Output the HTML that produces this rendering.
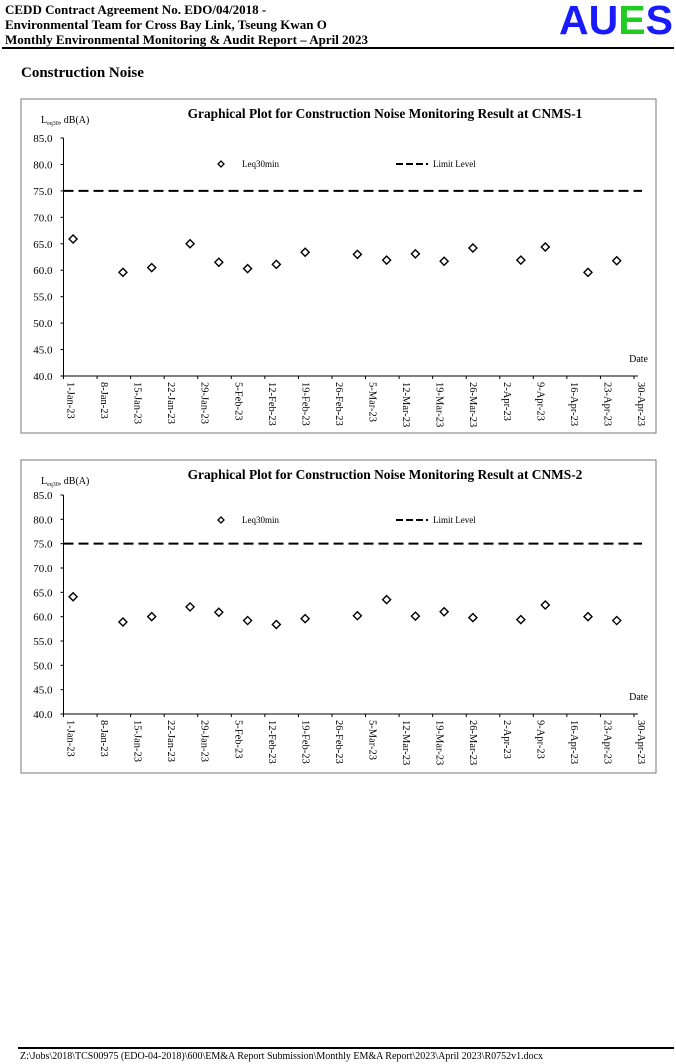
<!DOCTYPE html>
<html><head><meta charset="utf-8">
<style>
body{margin:0;width:676px;height:1064px;background:#fff;position:relative;font-family:"Liberation Serif",serif;overflow:hidden}
.h{position:absolute;left:5px;font-weight:bold;font-size:13px;line-height:15px;color:#000}
</style></head><body>
<div class="h" style="top:2px">CEDD Contract Agreement No. EDO/04/2018 -</div>
<div class="h" style="top:17px">Environmental Team for Cross Bay Link, Tseung Kwan O</div>
<div class="h" style="top:32px">Monthly Environmental Monitoring &amp; Audit Report – April 2023</div>
<div style="position:absolute;left:559px;top:-2px;font-family:'Liberation Sans',sans-serif;font-weight:bold;font-size:41px;line-height:44px;letter-spacing:0px"><span style="color:#1a1aff">AU</span><span style="color:#22cc22">E</span><span style="color:#1a1aff">S</span></div>
<div style="position:absolute;left:2px;top:47px;width:672px;height:2px;background:#000"></div>
<div style="position:absolute;left:21px;top:65px;font-weight:bold;font-size:15px">Construction Noise</div>
<svg id="c1" style="position:absolute;left:0;top:0" width="676" height="1064"></svg>
<div style="position:absolute;left:18px;top:1047px;width:656px;height:1.5px;background:#000"></div>
<div style="position:absolute;left:20px;top:1051px;font-size:10px">Z:\Jobs\2018\TCS00975 (EDO-04-2018)\600\EM&amp;A Report Submission\Monthly EM&amp;A Report\2023\April 2023\R0752v1.docx</div>
<script>
const xTickLabels=["1-Jan-23","8-Jan-23","15-Jan-23","22-Jan-23","29-Jan-23","5-Feb-23","12-Feb-23","19-Feb-23","26-Feb-23","5-Mar-23","12-Mar-23","19-Mar-23","26-Mar-23","2-Apr-23","9-Apr-23","16-Apr-23","23-Apr-23","30-Apr-23"];
const yTicks=[40,45,50,55,60,65,70,75,80,85];
const days=[2,12.4,18.4,26.4,32.4,38.4,44.4,50.4,61.3,67.4,73.4,79.4,85.4,95.4,100.5,109.4,115.4];
const cnms1=[65.9,59.6,60.5,65.0,61.5,60.3,61.1,63.4,63.0,61.9,63.1,61.7,64.2,61.9,64.4,59.6,61.8];
const cnms2=[64.1,58.9,60.0,62.0,60.9,59.2,58.4,59.6,60.2,63.5,60.1,61.0,59.8,59.4,62.4,60.0,59.2];
const limitLevel=75;
const svg=document.getElementById('c1');
const NS='http://www.w3.org/2000/svg';
function mk(t,a,txt){const e=document.createElementNS(NS,t);for(const k in a)e.setAttribute(k,a[k]);if(txt!=null)e.textContent=txt;svg.appendChild(e);return e;}
function chart(cfg,vals,id){
  const x0=63.5,x1=634,y85=cfg.y85,y40=cfg.y40;
  const X=d=>x0+d*(x1-x0)/119;
  const Y=v=>y40-(v-40)*(y40-y85)/45;
  let e=mk('rect',{x:21,y:cfg.top,width:635,height:cfg.h,fill:'none',stroke:'#777','stroke-width':1});
  
  
  e=mk('text',{x:385,y:cfg.top+19,'text-anchor':'middle','font-size':13.4,'font-weight':'bold','font-family':'Liberation Serif'},'Graphical Plot for Construction Noise Monitoring Result at CNMS-'+cfg.n);
  
  
  e=mk('text',{x:41,y:cfg.top+24,'font-size':10,'font-family':'Liberation Serif'});
  e.innerHTML='L<tspan font-size="6" dy="2">eq30</tspan><tspan dy="-2">, dB(A)</tspan>';
  
  
  mk('line',{x1:x0,y1:y85,x2:x0,y2:y40,stroke:'#000','stroke-width':1});
  mk('line',{x1:x0,y1:y40,x2:x1+4,y2:y40,stroke:'#000','stroke-width':1});
  yTicks.forEach(v=>{
    mk('line',{x1:x0-3,y1:Y(v),x2:x0,y2:Y(v),stroke:'#000'});
    e=mk('text',{x:x0-11,y:Y(v)+4,'text-anchor':'end','font-size':11,'font-family':'Liberation Serif'},v.toFixed(1));
    
    
  });
  xTickLabels.forEach((l,i)=>{
    const xx=X(i*7);
    mk('line',{x1:xx,y1:y40,x2:xx,y2:y40+3,stroke:'#000'});
    e=mk('text',{x:0,y:0,'font-size':10.5,'font-family':'Liberation Serif',transform:'translate('+(xx+4)+','+(y40+6)+') rotate(90)'},l);
    
    
  });
  e=mk('text',{x:648,y:y40-14,'text-anchor':'end','font-size':10,'font-family':'Liberation Serif'},'Date');
  
  
  e=mk('line',{x1:x0,y1:Y(limitLevel),x2:x1+8,y2:Y(limitLevel),stroke:'#000','stroke-width':2,'stroke-dasharray':'10,5'});
  
  
  const ly=cfg.legY;
  e=mk('path',{d:`M221,${ly-3}l3,3l-3,3l-3,-3z`,fill:'none',stroke:'#000','stroke-width':1.3});
  
  
  e=mk('text',{x:242,y:ly+3,'font-size':9,'font-family':'Liberation Serif'},'Leq30min');
  
  
  mk('line',{x1:396,y1:ly,x2:428,y2:ly,stroke:'#000','stroke-width':2,'stroke-dasharray':'7,3'});
  e=mk('text',{x:433,y:ly+3,'font-size':9,'font-family':'Liberation Serif'},'Limit Level');
  
  
  vals.forEach((v,i)=>{
    const cx=X(days[i]),cy=Y(v);
    const p=mk('path',{d:`M${cx},${cy-4}l4,4l-4,4l-4,-4z`,fill:'#fff',stroke:'#000','stroke-width':1.4});
    
    
  });
}
chart({n:1,top:99,h:334,y85:138,y40:376,legY:164},cnms1,'cnms1');
chart({n:2,top:460,h:313,y85:495,y40:714,legY:520},cnms2,'cnms2');
</script>
</body></html>
